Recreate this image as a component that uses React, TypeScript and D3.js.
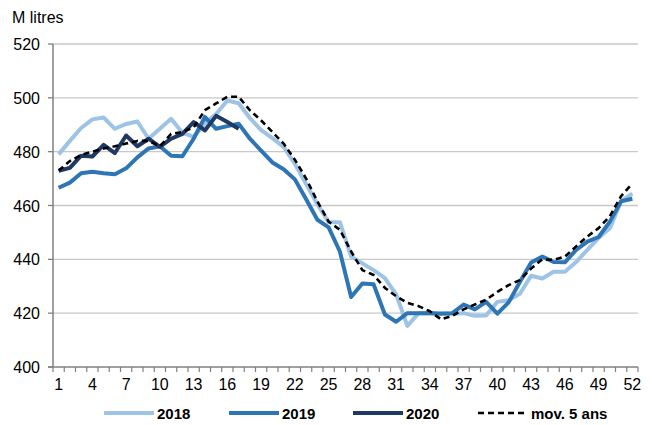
import React from 'react';
import * as d3 from 'd3';

// weekly volumes, M litres
const weeks = d3.range(1, 53);
const tickWeeks = [1, 4, 7, 10, 13, 16, 19, 22, 25, 28, 31, 34, 37, 40, 43, 46, 49, 52];
const yTicks = [400, 420, 440, 460, 480, 500, 520];

const s2018 = [479, 484, 488.8, 492, 492.7, 488.5, 490.3, 491.2, 484.8, 488.5,
  492.2, 487, 485.5, 490.5, 494, 499, 498, 492.5, 488, 485,
  481.8, 475.5, 468, 460.5, 453.8, 453.8, 441, 438.5, 436, 433,
  427, 415.3, 420, 420, 420, 419.8, 420, 419, 419.1, 424.2,
  424.8, 427.2, 433.9, 432.9, 435.4, 435.4, 439, 443.5, 448, 451.6,
  461.6, 464.4];
const s2019 = [466.6, 468.5, 472, 472.5, 472, 471.6, 473.8, 477.9, 481.2, 482,
  478.5, 478.3, 484.8, 492.9, 488.5, 489.5, 490.4, 484.8, 480.4, 476,
  473.5, 469.7, 462.3, 454.7, 451.9, 442.9, 426, 431, 430.7, 419.5,
  416.8, 420, 420, 420, 419.8, 420, 423.2, 421.4, 424.2, 419.8,
  424, 431.6, 438.8, 441, 439, 438.9, 443.5, 446.6, 448.3, 454,
  461.6, 462.5];
const s2020 = [472.9, 474, 478.5, 478.2, 482.5, 479.5, 486, 482, 484.8, 481.8,
  484.8, 486.6, 491, 487.9, 493.3, 491, 488.5];
const sAvg = [473, 476.5, 478.8, 480, 481.2, 482, 483, 484, 484, 482,
  486.6, 487.3, 489, 495.4, 497.9, 500.4, 500.4, 495.4, 491.6, 487.3,
  483, 477, 470, 461.5, 454, 451, 442.9, 436, 434.2, 429.4,
  426.3, 423.8, 422.6, 420.7, 417.7, 419, 421.4, 423.2, 425, 427.9,
  430.4, 432.3, 436.6, 440, 439.8, 441, 444.8, 448.5, 451.6, 456,
  463.5, 468.2];

const series = [
  { name: '2018', values: s2018, color: '#9DC3E6', dash: '' },
  { name: '2019', values: s2019, color: '#2E75B6', dash: '' },
  { name: '2020', values: s2020, color: '#1F3864', dash: '' },
  { name: 'mov. 5 ans', values: sAvg, color: '#000000', dash: '6,4' },
];

const W = 652;
const H = 425;
const font = '"Liberation Sans", Arial, sans-serif';

export default function App() {
  const x = d3.scaleLinear().domain([0.5, 52.5]).range([53, 638]);
  const y = d3.scaleLinear().domain([400, 520]).range([367, 44]);

  const line = d3.line<number>()
    .x((d, i) => x(i + 1))
    .y((d) => y(d));

  const legendX = [104, 229, 353, 478];

  return (
    <svg width={W} height={H} style={{ position: 'absolute', left: 0, top: 0, background: '#fff' }}
      fontFamily={font}>
      <text x={12} y={23} fontSize={16} fill="#000">M litres</text>

      {/* grid + y ticks */}
      {yTicks.map((t) => (
        <g key={'y' + t}>
          {t > 400 && (
            <line x1={x(0.5)} x2={x(52.5)} y1={y(t)} y2={y(t)} stroke="#C8C8C8" strokeWidth={1.3} />
          )}
          <line x1={48} x2={53} y1={y(t)} y2={y(t)} stroke="#808080" strokeWidth={1.3} />
          <text x={40} y={y(t) + 6} fontSize={16} textAnchor="end" fill="#000">{t}</text>
        </g>
      ))}
      <line x1={53} x2={53} y1={y(520)} y2={y(400)} stroke="#808080" strokeWidth={1.5} />
      <line x1={48} x2={x(52.5)} y1={y(400)} y2={y(400)} stroke="#808080" strokeWidth={1.5} />

      {/* x ticks between weeks */}
      {d3.range(0, 53).map((k) => (
        <line key={'xt' + k} x1={x(k + 0.5)} x2={x(k + 0.5)} y1={y(400)} y2={y(400) + 5}
          stroke="#808080" strokeWidth={1.2} />
      ))}
      {tickWeeks.map((w) => (
        <text key={'xl' + w} x={x(w)} y={390} fontSize={16} textAnchor="middle" fill="#000">{w}</text>
      ))}

      {/* series */}
      {series.map((s) => (
        <path key={s.name} d={line(s.values) || ''} fill="none" stroke={s.color}
          strokeWidth={s.dash ? 2.6 : 4} strokeDasharray={s.dash || undefined}
          strokeLinejoin="round" />
      ))}

      {/* legend */}
      {series.map((s, i) => (
        <g key={'lg' + s.name}>
          <line x1={legendX[i]} x2={legendX[i] + 50} y1={413} y2={413} stroke={s.color}
            strokeWidth={s.dash ? 2.6 : 4} strokeDasharray={s.dash || undefined} />
          <text x={legendX[i] + 53} y={419} fontSize={15} fontWeight="bold" fill="#000">{s.name}</text>
        </g>
      ))}
    </svg>
  );
}
